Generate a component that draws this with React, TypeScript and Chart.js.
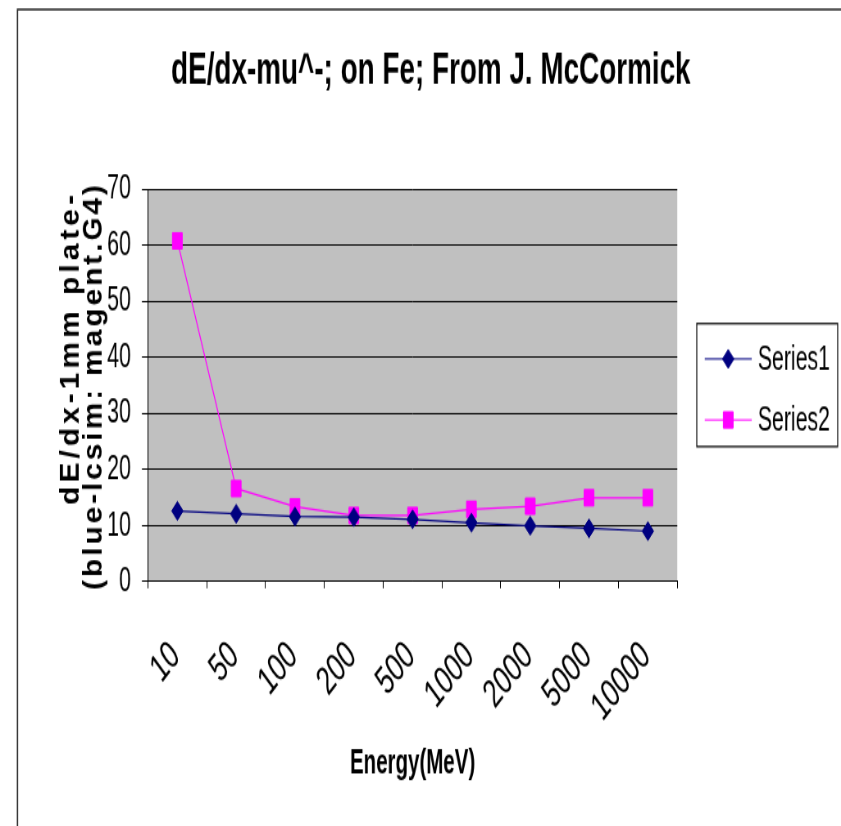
import { useEffect, useRef } from 'react';
import { Chart, registerables } from 'chart.js';
import { drawPoint } from 'chart.js/helpers';

Chart.register(...registerables);

// ---- data ----
const energies = ['10', '50', '100', '200', '500', '1000', '2000', '5000', '10000'];
const series1 = [12.6, 12.1, 11.6, 11.5, 11.1, 10.5, 9.95, 9.5, 9.0];
const series2 = [60.8, 16.6, 13.35, 11.8, 11.8, 12.9, 13.45, 14.95, 14.95];
const seriesNames = ['Series1', 'Series2'];
const yMin = 0;
const yMax = 70;
const yStep = 10;

const titleText = 'dE/dx-mu^-; on Fe; From J. McCormick';
const yTitleLines = ['dE/dx-1mm plate-', '(blue-lcsim: magent.G4)'];
const xTitle = 'Energy(MeV)';

// ---- layout ----
// The canvas is drawn in its own units and squeezed/stretched by CSS
// (narrow horizontally, tall vertically) to give the condensed look.
const CSS_W = 841;
const CSS_H = 826;
const SX = 0.82;
const SY = 1.35;
const W = Math.round(CSS_W / SX);
const H = Math.round(CSS_H / SY);
const px = (v: number) => v / SX; // page x -> canvas x
const py = (v: number) => v / SY; // page y -> canvas y

const PAD_LEFT = px(20.7);
const PLOT_LEFT = px(148);
const PLOT_RIGHT = px(677.5);
const PLOT_TOP = py(189.3);
const PLOT_BOTTOM = py(581.7);
const LABEL_ANGLE = (44 * Math.PI) / 180;
const FONT = "'Liberation Sans', Arial, sans-serif";

const COLORS = ['#000080', '#ff00ff'];
const STYLES: any[] = ['rectRot', 'rect'];
const RADII = [7, 8.5];

const decor = {
  id: 'decor',
  beforeDraw(chart: any) {
    const { ctx, chartArea: a, width, height } = chart;
    ctx.save();
    ctx.fillStyle = '#ffffff';
    ctx.fillRect(0, 0, width, height);
    ctx.fillStyle = '#c0c0c0';
    ctx.fillRect(a.left, a.top, a.right - a.left, a.bottom - a.top);
    ctx.restore();
  },
  afterDraw(chart: any) {
    const { ctx, width, height } = chart;
    ctx.save();

    // outer frame (left and top edges)
    ctx.strokeStyle = '#222';
    ctx.lineWidth = 1.6;
    ctx.beginPath();
    ctx.moveTo(px(17.5), height);
    ctx.lineTo(px(17.5), py(9.5));
    ctx.lineTo(width, py(9.5));
    ctx.stroke();

    // category labels, slanted upward, ending at each category centre
    const xs = chart.scales.x;
    ctx.fillStyle = '#000';
    ctx.font = `30px ${FONT}`;
    ctx.textAlign = 'right';
    ctx.textBaseline = 'middle';
    chart.data.labels.forEach((label: string, i: number) => {
      ctx.save();
      ctx.translate(xs.getPixelForTick(i) - px(2), py(650));
      ctx.scale(1 / SX, 1);
      ctx.rotate(-LABEL_ANGLE);
      ctx.scale(SX, 1);
      ctx.fillText(label, 0, 0);
      ctx.restore();
    });

    // two-line rotated y-axis title, spaced out along its length
    const size = 27;
    const baselines = [px(79), px(102)];
    const ends = [py(195), py(185)];
    const lengths = [py(310), py(405)];
    yTitleLines.forEach((line, i) => {
      ctx.save();
      ctx.font = `bold ${size}px ${FONT}`;
      (ctx as any).letterSpacing = '0px';
      const w = ctx.measureText(line).width;
      const n = [...line].length;
      const ls = Math.max(0, (lengths[i] / SX - w) / (n - 1));
      (ctx as any).letterSpacing = `${ls}px`;
      ctx.textAlign = 'right';
      ctx.textBaseline = 'alphabetic';
      ctx.translate(baselines[i], ends[i]);
      ctx.rotate(-Math.PI / 2);
      ctx.scale(SX, 1 / SX);
      ctx.fillText(line, ls, 0);
      ctx.restore();
    });

    // legend box
    const lx = px(697), ly = py(323), lw = px(838) - px(697), lh = py(446) - py(323);
    ctx.strokeStyle = '#000';
    ctx.lineWidth = 1.2;
    ctx.strokeRect(lx, ly + 0.5, lw, lh);
    const rowY = [py(359), py(420)];
    chart.data.datasets.forEach((ds: any, i: number) => {
      const y = rowY[i];
      ctx.strokeStyle = ds.borderColor;
      ctx.lineWidth = 1;
      ctx.beginPath();
      ctx.moveTo(px(705), y);
      ctx.lineTo(px(752), y);
      ctx.stroke();
      ctx.fillStyle = ds.pointBackgroundColor;
      ctx.strokeStyle = ds.pointBorderColor;
      drawPoint(ctx, { pointStyle: ds.pointStyle, radius: ds.pointRadius, rotation: 0, borderWidth: 1 }, px(728.5), y);
      ctx.fillStyle = '#000';
      ctx.font = `26px ${FONT}`;
      ctx.textAlign = 'left';
      ctx.textBaseline = 'middle';
      ctx.fillText(ds.label, px(758), y + 1);
    });
    ctx.restore();
  },
};

export default function App() {
  const ref = useRef<HTMLCanvasElement | null>(null);

  useEffect(() => {
    document.body.style.margin = '0';
    const canvas = ref.current;
    if (!canvas) return;
    const chart = new Chart(canvas, {
      type: 'line',
      data: {
        labels: energies,
        datasets: [series1, series2].map((data, i) => ({
          label: seriesNames[i],
          data,
          borderColor: COLORS[i],
          backgroundColor: COLORS[i],
          borderWidth: 1.2,
          pointStyle: STYLES[i],
          pointRadius: RADII[i],
          pointBorderWidth: 1,
          pointBackgroundColor: COLORS[i],
          pointBorderColor: COLORS[i],
          tension: 0,
        })),
      },
      options: {
        responsive: false,
        animation: false,
        devicePixelRatio: 1,
        layout: { padding: { left: PAD_LEFT, top: 0, right: 0, bottom: 0 } },
        plugins: {
          legend: { display: false },
          tooltip: { enabled: false },
          title: {
            display: true,
            text: titleText,
            color: '#000',
            font: { family: FONT, size: 34, weight: 'bold', lineHeight: 1.2 },
            padding: { top: 32, bottom: PLOT_TOP - 32 - 34 * 1.2 },
          },
        },
        scales: {
          x: {
            type: 'category',
            offset: true,
            grid: { offset: true, drawOnChartArea: false, drawTicks: true, tickLength: 5, color: '#000' },
            border: { display: true, color: '#000' },
            ticks: { display: false, autoSkip: false },
            title: {
              display: true,
              text: xTitle,
              color: '#000',
              font: { family: FONT, size: 25, weight: 'bold', lineHeight: 1.2 },
              padding: { top: 0, bottom: 31 },
            },
            afterFit: (s: any) => {
              s.height = H - PLOT_BOTTOM;
            },
          },
          y: {
            min: yMin,
            max: yMax,
            ticks: { stepSize: yStep, color: '#000', font: { family: FONT, size: 26 }, padding: px(11) },
            grid: { color: '#000', tickLength: px(6) },
            border: { color: '#000' },
            afterFit: (s: any) => {
              s.width = PLOT_LEFT - PAD_LEFT;
            },
          },
          y2: {
            position: 'right',
            display: true,
            grid: { display: false },
            ticks: { display: false },
            border: { display: false },
            afterFit: (s: any) => {
              s.width = W - PLOT_RIGHT;
            },
          },
        },
      } as any,
      plugins: [decor],
    });
    return () => chart.destroy();
  }, []);

  return (
    <canvas
      ref={ref}
      width={W}
      height={H}
      style={{ display: 'block', width: `${CSS_W}px`, height: `${CSS_H}px` }}
    />
  );
}
